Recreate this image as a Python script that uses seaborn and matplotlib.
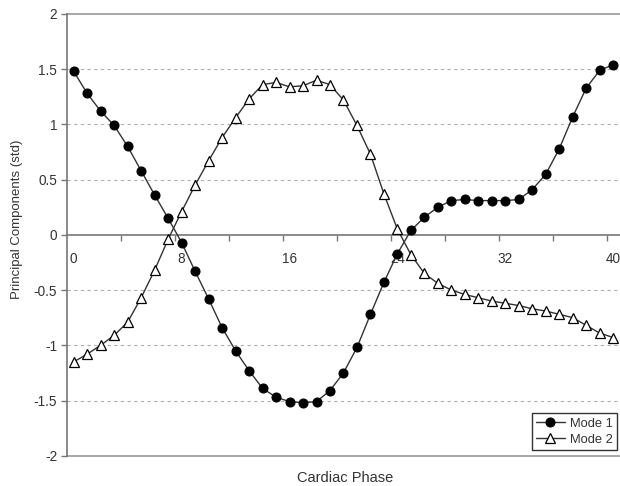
import seaborn as sns
import matplotlib.pyplot as plt
import matplotlib
import pandas as pd
import numpy as np

phase = list(range(41))
mode1 = [1.48, 1.28, 1.12, 0.99, 0.80, 0.58, 0.36, 0.15, -0.07, -0.33,
         -0.58, -0.84, -1.05, -1.23, -1.39, -1.47, -1.51, -1.52, -1.51, -1.41,
         -1.25, -1.02, -0.72, -0.43, -0.17, 0.04, 0.16, 0.25, 0.31, 0.32,
         0.31, 0.31, 0.31, 0.32, 0.41, 0.55, 0.78, 1.07, 1.33, 1.49, 1.54]
mode2 = [-1.15, -1.08, -1.00, -0.91, -0.79, -0.57, -0.32, -0.04, 0.21, 0.45,
         0.67, 0.88, 1.06, 1.23, 1.36, 1.38, 1.34, 1.35, 1.40, 1.36,
         1.22, 0.99, 0.73, 0.37, 0.05, -0.18, -0.35, -0.44, -0.50, -0.54,
         -0.57, -0.60, -0.62, -0.64, -0.67, -0.69, -0.72, -0.75, -0.82, -0.89, -0.93]
x_labels = ["0", "8", "16", "24", "32", "40"]

df = pd.DataFrame({"Cardiac Phase": phase, "Mode 1": mode1, "Mode 2": mode2})

sns.set_style("white")
plt.rcParams['font.family'] = ['Liberation Sans', 'DejaVu Sans']

fig = plt.figure(figsize=(6.2, 4.86), dpi=100)
ax = fig.add_axes([0.108, 0.0623, 0.892, 0.909])

sns.lineplot(data=df, x="Cardiac Phase", y="Mode 1", ax=ax, color="#333333", lw=1,
             marker="o", markersize=6.5, markerfacecolor="black", markeredgecolor="black",
             label="Mode 1", zorder=3)
sns.lineplot(data=df, x="Cardiac Phase", y="Mode 2", ax=ax, color="#333333", lw=1,
             marker="^", markersize=7.2, markerfacecolor="white", markeredgecolor="black",
             markeredgewidth=0.9, label="Mode 2", zorder=3)

ax.set_xlim(-0.5, 40.5)
ax.set_ylim(-2, 2)

# gridlines
for y in [-1.5, -1, -0.5, 0.5, 1, 1.5]:
    ax.axhline(y, color="#b0b0b0", lw=0.8, ls=(0, (3, 3)), zorder=0)
for y in [-2, 2]:
    ax.axhline(y, color="#999999", lw=1.2, zorder=0, clip_on=False)

for s in ["top", "right"]:
    ax.spines[s].set_visible(False)
ax.spines["bottom"].set_position(("data", 0))
ax.spines["bottom"].set_color("#777777")
ax.spines["bottom"].set_linewidth(1.2)
ax.spines["left"].set_color("#777777")
ax.spines["left"].set_linewidth(1.2)

ax.set_xticks([0, 8, 16, 24, 32, 40])
ax.set_xticklabels(x_labels)
ax.set_xticks(np.arange(3.5, 41, 4), minor=True)
ax.tick_params(axis="x", which="major", length=0, pad=12, labelsize=9.8, labelcolor="#333333")
ax.tick_params(axis="x", which="minor", length=4, width=1, color="#777777", direction="out", bottom=True)

ax.set_yticks(np.arange(-2, 2.01, 0.5))
ax.yaxis.set_major_formatter(matplotlib.ticker.FuncFormatter(lambda v, p: f"{v:g}"))
ax.tick_params(axis="y", length=4, width=1, color="#777777", direction="out", left=True,
               labelsize=9.8, labelcolor="#333333", pad=3)

ax.set_xlabel("")
ax.set_ylabel("")
fig.text(17 / 620, 1 - 219 / 486, "Principal Components (std)", fontsize=9.5, color="#333333",
         rotation=90, ha="center", va="center")
fig.text(345 / 620, 1 - 478 / 486, "Cardiac Phase", fontsize=10.5, color="#333333",
         ha="center", va="center")

leg = ax.legend(loc="lower right", bbox_to_anchor=(0.995, 0.012), frameon=True, fancybox=False,
                edgecolor="black", fontsize=9.3, handlelength=2.2, borderpad=0.35,
                labelspacing=0.3, handletextpad=0.4, borderaxespad=0)
leg.get_frame().set_linewidth(1)
for t in leg.get_texts():
    t.set_color("#333333")

fig.savefig("out.png", dpi=100)
